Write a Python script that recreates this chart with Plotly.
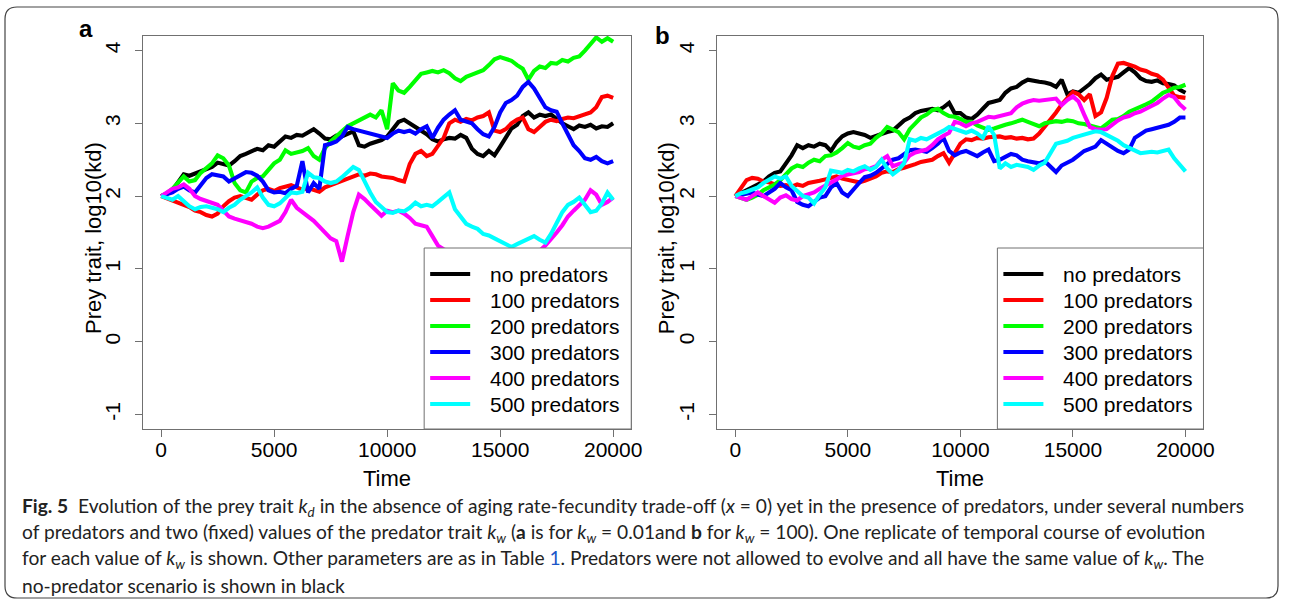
import plotly.graph_objects as go

W, H = 1290, 604
# the captured page comes out ~0.991x horizontally; place items by captured pixel
WEFF = 1278.5


def px(x):
    return x / WEFF


def py(y):
    return 1 - y / H


# ---------------- data ----------------
time = list(range(0, 20001, 250))

names = ["no predators", "100 predators", "200 predators",
         "300 predators", "400 predators", "500 predators"]
colors = ["#000000", "#ff0000", "#00ff00", "#0000ff", "#ff00ff", "#00ffff"]

# panel a (k_w = 0.01)
a_none = [2.00, 2.03, 2.08, 2.18, 2.30, 2.28, 2.31, 2.33, 2.37, 2.40,
          2.46, 2.44, 2.42, 2.48, 2.55, 2.58, 2.62, 2.65, 2.63, 2.70,
          2.68, 2.76, 2.82, 2.80, 2.84, 2.83, 2.88, 2.92, 2.86, 2.79,
          2.78, 2.83, 2.82, 2.86, 2.89, 2.70, 2.68, 2.72, 2.74, 2.77,
          2.82, 2.92, 3.02, 3.05, 3.00, 2.96, 2.90, 2.85, 2.78, 2.75,
          2.78, 2.80, 2.79, 2.84, 2.80, 2.65, 2.58, 2.55, 2.62, 2.56,
          2.68, 2.80, 2.93, 2.98, 3.10, 3.15, 3.08, 3.12, 3.10, 3.12,
          3.06, 3.00, 2.96, 2.92, 2.97, 2.95, 2.98, 2.93, 2.96, 2.95,
          3.00]
a_100 = [2.00, 1.97, 1.95, 1.92, 1.88, 1.85, 1.80, 1.78, 1.74, 1.72,
         1.76, 1.86, 1.93, 1.98, 2.00, 1.97, 1.95, 2.02, 2.08, 2.10,
         2.07, 2.11, 2.13, 2.15, 2.12, 2.09, 2.11, 2.08, 2.06, 2.12,
         2.15, 2.18, 2.20, 2.24, 2.26, 2.30, 2.28, 2.31, 2.30, 2.27,
         2.26, 2.25, 2.22, 2.20, 2.44, 2.58, 2.62, 2.55, 2.58, 2.68,
         2.80, 3.00, 3.05, 3.02, 3.06, 3.04, 3.08, 3.10, 3.15, 2.90,
         2.88, 2.92, 3.00, 3.05, 3.08, 2.92, 2.88, 2.95, 3.02, 3.05,
         3.03, 3.06, 3.08, 3.07, 3.10, 3.12, 3.15, 3.22, 3.36, 3.38,
         3.35]
a_200 = [2.00, 2.04, 2.10, 2.18, 2.27, 2.20, 2.22, 2.32, 2.38, 2.45,
         2.56, 2.52, 2.42, 2.18, 2.08, 2.05, 2.20, 2.25, 2.27, 2.35,
         2.45, 2.50, 2.63, 2.58, 2.60, 2.62, 2.66, 2.55, 2.50, 2.66,
         2.75, 2.82, 2.90, 2.96, 3.00, 3.04, 3.08, 3.12, 3.08, 3.18,
         2.92, 3.55, 3.45, 3.42, 3.50, 3.58, 3.68, 3.70, 3.72, 3.70,
         3.73, 3.69, 3.62, 3.58, 3.64, 3.67, 3.70, 3.73, 3.80, 3.88,
         3.91, 3.88, 3.86, 3.80, 3.75, 3.60, 3.72, 3.78, 3.76, 3.83,
         3.82, 3.87, 3.85, 3.90, 3.92, 4.00, 4.08, 4.18, 4.12, 4.17,
         4.12]
a_300 = [2.00, 2.02, 2.05, 2.10, 2.13, 2.08, 2.05, 2.15, 2.25, 2.30,
         2.28, 2.27, 2.20, 2.24, 2.28, 2.33, 2.32, 2.28, 2.20, 2.08,
         2.05, 2.06, 2.04, 2.10, 2.14, 2.48, 2.05, 2.18, 2.10, 2.70,
         2.72, 2.75, 2.82, 2.95, 2.92, 2.90, 2.88, 2.85, 2.83, 2.82,
         2.80, 2.86, 2.90, 2.88, 2.90, 2.86, 2.92, 2.96, 2.80, 2.94,
         3.05, 3.12, 3.18, 3.05, 3.02, 3.00, 2.92, 2.85, 2.82, 2.95,
         3.15, 3.28, 3.32, 3.38, 3.50, 3.57, 3.48, 3.35, 3.22, 3.18,
         3.16, 3.00, 2.85, 2.70, 2.62, 2.52, 2.50, 2.54, 2.48, 2.45,
         2.48]
a_400 = [2.00, 2.05, 2.10, 2.12, 2.16, 2.10, 2.00, 1.96, 1.93, 1.91,
         1.88, 1.80, 1.72, 1.69, 1.67, 1.64, 1.62, 1.58, 1.56, 1.58,
         1.62, 1.66, 1.78, 1.95, 1.84, 1.78, 1.72, 1.66, 1.58, 1.50,
         1.42, 1.38, 1.10, 1.45, 1.78, 2.02, 1.96, 1.88, 1.80, 1.73,
         1.80, 1.78, 1.80, 1.76, 1.70, 1.62, 1.60, 1.58, 1.45, 1.32,
         1.27, 1.22, 1.18, 1.15, 1.10, 1.05, 1.02, 1.00, 0.98, 1.02,
         1.05, 1.03, 1.08, 1.12, 1.10, 1.15, 1.20, 1.25, 1.32, 1.40,
         1.50, 1.60, 1.72, 1.80, 1.88, 1.95, 2.08, 2.02, 1.88, 1.92,
         1.98]
a_500 = [2.00, 1.97, 1.95, 2.00, 1.92, 1.86, 1.82, 1.85, 1.86, 1.84,
         1.82, 1.78, 1.84, 1.88, 1.95, 2.00, 2.05, 2.12, 1.98, 1.88,
         1.86, 1.90, 1.98, 2.05, 2.04, 2.06, 2.32, 2.26, 2.25, 2.20,
         2.18, 2.20, 2.26, 2.34, 2.40, 2.36, 2.20, 2.05, 1.92, 1.84,
         1.78, 1.77, 1.80, 1.79, 1.84, 1.91, 1.86, 1.88, 1.86, 1.92,
         1.98, 2.05, 1.82, 1.72, 1.62, 1.58, 1.55, 1.48, 1.46, 1.42,
         1.38, 1.34, 1.30, 1.34, 1.38, 1.42, 1.45, 1.40, 1.36, 1.48,
         1.62, 1.78, 1.88, 1.92, 1.98, 1.88, 1.78, 1.80, 1.90, 2.05,
         1.95]

# panel b (k_w = 100)
b_none = [2.00, 2.04, 2.09, 2.12, 2.16, 2.20, 2.27, 2.32, 2.34, 2.44,
          2.56, 2.70, 2.66, 2.70, 2.68, 2.72, 2.70, 2.62, 2.74, 2.82,
          2.86, 2.88, 2.86, 2.84, 2.80, 2.83, 2.86, 2.88, 2.90, 2.97,
          3.04, 3.08, 3.14, 3.17, 3.18, 3.20, 3.18, 3.22, 3.28, 3.14,
          3.14, 3.08, 3.06, 3.12, 3.20, 3.28, 3.30, 3.32, 3.42, 3.48,
          3.50, 3.56, 3.60, 3.58, 3.57, 3.56, 3.54, 3.50, 3.60, 3.40,
          3.44, 3.42, 3.48, 3.54, 3.62, 3.67, 3.60, 3.62, 3.64, 3.70,
          3.76, 3.70, 3.62, 3.58, 3.57, 3.59, 3.55, 3.54, 3.52, 3.46,
          3.42]
b_100 = [2.00, 2.12, 2.22, 2.25, 2.24, 2.20, 2.19, 2.16, 2.14, 2.15,
         2.13, 2.16, 2.14, 2.18, 2.19, 2.21, 2.23, 2.25, 2.27, 2.24,
         2.22, 2.20, 2.19, 2.21, 2.24, 2.27, 2.32, 2.34, 2.33, 2.37,
         2.39, 2.41, 2.44, 2.47, 2.48, 2.50, 2.55, 2.59, 2.46, 2.60,
         2.72, 2.78, 2.77, 2.80, 2.79, 2.81, 2.82, 2.82, 2.80, 2.81,
         2.79, 2.80, 2.78, 2.79, 2.86, 2.95, 3.06, 3.15, 3.26, 3.35,
         3.43, 3.40, 3.32, 3.40, 3.10, 3.15, 3.35, 3.65, 3.82, 3.83,
         3.81, 3.78, 3.74, 3.72, 3.68, 3.66, 3.60, 3.50, 3.38, 3.36,
         3.35]
b_200 = [2.00, 1.98, 1.95, 1.98, 2.02, 2.08, 2.12, 2.16, 2.22, 2.30,
         2.38, 2.42, 2.40, 2.46, 2.50, 2.48, 2.55, 2.56, 2.60, 2.66,
         2.73, 2.68, 2.66, 2.70, 2.72, 2.80, 2.86, 2.95, 2.92, 2.88,
         2.78, 2.92, 3.00, 3.08, 3.12, 3.18, 3.20, 3.14, 3.10, 3.09,
         3.06, 3.02, 3.02, 2.97, 2.94, 2.91, 2.93, 2.96, 2.98, 3.00,
         3.03, 3.05, 3.02, 2.99, 2.96, 3.00, 3.02, 3.03, 3.02, 3.04,
         3.03, 3.00, 2.99, 2.97, 2.94, 2.93, 2.99, 3.05, 3.06, 3.10,
         3.16, 3.19, 3.22, 3.26, 3.30, 3.36, 3.42, 3.45, 3.49, 3.50,
         3.53]
b_300 = [2.00, 2.02, 2.03, 2.05, 2.02, 2.00, 2.05, 2.10, 2.18, 2.12,
         2.08, 1.92, 1.88, 1.86, 1.92, 1.98, 2.00, 2.12, 2.18, 2.05,
         2.00, 2.10, 2.18, 2.26, 2.28, 2.32, 2.38, 2.45, 2.50, 2.52,
         2.58, 2.63, 2.64, 2.62, 2.61, 2.66, 2.72, 2.80, 2.62, 2.56,
         2.60, 2.62, 2.58, 2.55, 2.60, 2.64, 2.48, 2.50, 2.54, 2.58,
         2.56, 2.50, 2.48, 2.46, 2.45, 2.48, 2.40, 2.33, 2.42, 2.46,
         2.50, 2.56, 2.62, 2.65, 2.68, 2.77, 2.72, 2.66, 2.62, 2.59,
         2.64, 2.80, 2.85, 2.90, 2.92, 2.94, 2.96, 2.98, 3.02, 3.08,
         3.08]
b_400 = [2.00, 1.97, 1.95, 2.00, 2.05, 2.00, 1.96, 1.91, 1.98, 2.01,
         1.96, 1.94, 2.00, 2.02, 2.05, 2.10, 2.14, 2.18, 2.23, 2.28,
         2.30, 2.32, 2.33, 2.37, 2.38, 2.41, 2.50, 2.55, 2.41, 2.44,
         2.46, 2.56, 2.60, 2.62, 2.64, 2.70, 2.78, 2.83, 2.87, 3.02,
         3.00, 2.96, 3.00, 3.02, 3.06, 3.09, 3.08, 3.10, 3.12, 3.14,
         3.22, 3.27, 3.30, 3.32, 3.31, 3.32, 3.33, 3.34, 3.25, 3.32,
         3.37, 3.30, 3.12, 2.95, 2.92, 2.91, 2.92, 2.98, 3.04, 3.08,
         3.10, 3.14, 3.16, 3.20, 3.24, 3.28, 3.34, 3.39, 3.36, 3.26,
         3.19]
b_500 = [2.00, 2.04, 2.06, 2.09, 2.12, 2.18, 2.22, 2.27, 2.24, 2.27,
         2.14, 2.06, 2.00, 1.98, 1.90, 2.02, 2.12, 2.35, 2.34, 2.32,
         2.36, 2.34, 2.38, 2.41, 2.36, 2.40, 2.50, 2.38, 2.30, 2.36,
         2.45, 2.78, 2.76, 2.80, 2.78, 2.82, 2.85, 2.90, 2.95, 2.92,
         2.90, 2.87, 2.90, 2.86, 2.80, 2.96, 2.84, 2.38, 2.45, 2.40,
         2.43, 2.42, 2.40, 2.36, 2.42, 2.46, 2.60, 2.72, 2.74, 2.76,
         2.80, 2.82, 2.85, 2.87, 2.89, 2.88, 2.84, 2.80, 2.76, 2.70,
         2.66, 2.62, 2.59, 2.60, 2.61, 2.60, 2.62, 2.64, 2.52, 2.42,
         2.34]

panel_a = [a_none, a_100, a_200, a_300, a_400, a_500]
panel_b = [b_none, b_100, b_200, b_300, b_400, b_500]

x_ticks = [0, 5000, 10000, 15000, 20000]
x_ticktext = ["0", "5000", "10000", "15000", "20000"]
y_ticks = [-1, 0, 1, 2, 3, 4]
y_ticktext = ["-1", "0", "1", "2", "3", "4"]

for s in panel_a + panel_b:
    assert len(s) == len(time), len(s)

# ---------------- figure ----------------
FONT = "Liberation Sans, Arial, sans-serif"
AXC = "#707070"
LW = 4.1

fig = go.Figure()
for name, col, vals in zip(names, colors, panel_a):
    fig.add_trace(go.Scatter(x=time, y=vals, mode="lines", name=name,
                             line=dict(color=col, width=LW),
                             xaxis="x", yaxis="y", showlegend=False,
                             hoverinfo="skip"))
for name, col, vals in zip(names, colors, panel_b):
    fig.add_trace(go.Scatter(x=time, y=vals, mode="lines", name=name,
                             line=dict(color=col, width=LW),
                             xaxis="x2", yaxis="y2", showlegend=False,
                             hoverinfo="skip"))

xa = dict(range=[-800, 20800], tickmode="array", tickvals=x_ticks,
          ticktext=x_ticktext,
          ticks="outside", ticklen=7, tickcolor=AXC, tickwidth=1,
          showline=True, linecolor=AXC, linewidth=1, mirror=True,
          showgrid=False, zeroline=False, ticklabelstandoff=-5,
          tickfont=dict(family=FONT, size=21, color="black"))
ya = dict(range=[-1.2, 4.2], tickmode="array", tickvals=y_ticks,
          ticktext=y_ticktext, tickangle=-90,
          ticks="outside", ticklen=7, tickcolor=AXC, tickwidth=1,
          showline=True, linecolor=AXC, linewidth=1, mirror=True,
          showgrid=False, zeroline=False, ticklabelstandoff=7,
          tickfont=dict(family=FONT, size=21, color="black"))

yd = [py(429), py(36)]
fig.update_layout(
    width=W, height=H, autosize=False,
    margin=dict(l=0, r=0, t=0, b=0),
    paper_bgcolor="white", plot_bgcolor="white",
    xaxis=dict(domain=[px(143), px(631)], anchor="y", **xa),
    yaxis=dict(domain=yd, anchor="x", **ya),
    xaxis2=dict(domain=[px(717), px(1203)], anchor="y2", **xa),
    yaxis2=dict(domain=yd, anchor="x2", **ya),
    showlegend=False,
)

shapes = []
ann = []
# legend boxes (white, drawn over the lines as in the original) with keys
for x0, x1 in [(424, 631), (997, 1203)]:
    shapes.append(dict(type="rect", xref="paper", yref="paper",
                       x0=px(x0), x1=px(x1), y0=py(429), y1=py(248),
                       fillcolor="white", line=dict(color=AXC, width=1),
                       layer="above"))
    for i, (name, col) in enumerate(zip(names, colors)):
        yy = 274 + 26 * i
        shapes.append(dict(type="line", xref="paper", yref="paper",
                           x0=px(x0 + 6), x1=px(x0 + 46), y0=py(yy), y1=py(yy),
                           line=dict(color=col, width=LW), layer="above"))
        ann.append(dict(text=name, x=px(x0 + 64), y=py(yy), xref="paper", yref="paper",
                        showarrow=False, xanchor="left", yanchor="middle",
                        font=dict(family=FONT, size=21, color="black")))

# outer rounded frame
L, R, T, B, r = 5, 1277.5, 7, 598, 12
pth = (f"M {px(L + r)},{py(T)} L {px(R - r)},{py(T)} Q {px(R)},{py(T)} {px(R)},{py(T + r)} "
       f"L {px(R)},{py(B - r)} Q {px(R)},{py(B)} {px(R - r)},{py(B)} "
       f"L {px(L + r)},{py(B)} Q {px(L)},{py(B)} {px(L)},{py(B - r)} "
       f"L {px(L)},{py(T + r)} Q {px(L)},{py(T)} {px(L + r)},{py(T)} Z")
shapes.append(dict(type="path", xref="paper", yref="paper", path=pth,
                   line=dict(color="#444444", width=1.2), layer="below"))
fig.update_layout(shapes=shapes)

# panel letters
ann.append(dict(text="<b>a</b>", x=px(86), y=py(29), xref="paper", yref="paper",
                showarrow=False, xanchor="center", yanchor="middle",
                font=dict(family=FONT, size=24, color="black")))
ann.append(dict(text="<b>b</b>", x=px(662), y=py(36), xref="paper", yref="paper",
                showarrow=False, xanchor="center", yanchor="middle",
                font=dict(family=FONT, size=24, color="black")))
# axis titles
for cx in [387, 960]:
    ann.append(dict(text="Time", x=px(cx), y=py(478), xref="paper", yref="paper",
                    showarrow=False, xanchor="center", yanchor="middle",
                    font=dict(family=FONT, size=22, color="black")))
for cx in [93, 666]:
    ann.append(dict(text="Prey trait, log10(kd)", x=px(cx), y=py(238),
                    xref="paper", yref="paper", textangle=-90,
                    showarrow=False, xanchor="center", yanchor="middle",
                    font=dict(family=FONT, size=22, color="black")))

# caption
CAP = "Lato, Liberation Sans, sans-serif"
kd = "<i>k</i><sub><i>d</i></sub>"
kw = "<i>k</i><sub><i>w</i></sub>"
cap_lines = [
    f"<b>Fig. 5</b>\u00a0\u00a0Evolution of the prey trait {kd} in the absence of aging rate-fecundity trade-off (<i>x</i> = 0) yet in the presence of predators, under several numbers",
    f"of predators and two (fixed) values of the predator trait {kw} (<b>a</b> is for {kw} = 0.01and <b>b</b> for {kw} = 100). One replicate of temporal course of evolution",
    f"for each value of {kw} is shown. Other parameters are as in Table <span style=\"color:#1a56c8\">1</span>. Predators were not allowed to evolve and all have the same value of {kw}. The",
    "no-predator scenario is shown in black",
]
for i, t in enumerate(cap_lines):
    ann.append(dict(text=t, x=px(20), y=py(507 + 26 * i), xref="paper", yref="paper",
                    showarrow=False, xanchor="left", yanchor="middle", align="left",
                    font=dict(family=CAP, size=19.2, color="#222222")))
fig.update_layout(annotations=ann)

fig.write_html("out.html")
